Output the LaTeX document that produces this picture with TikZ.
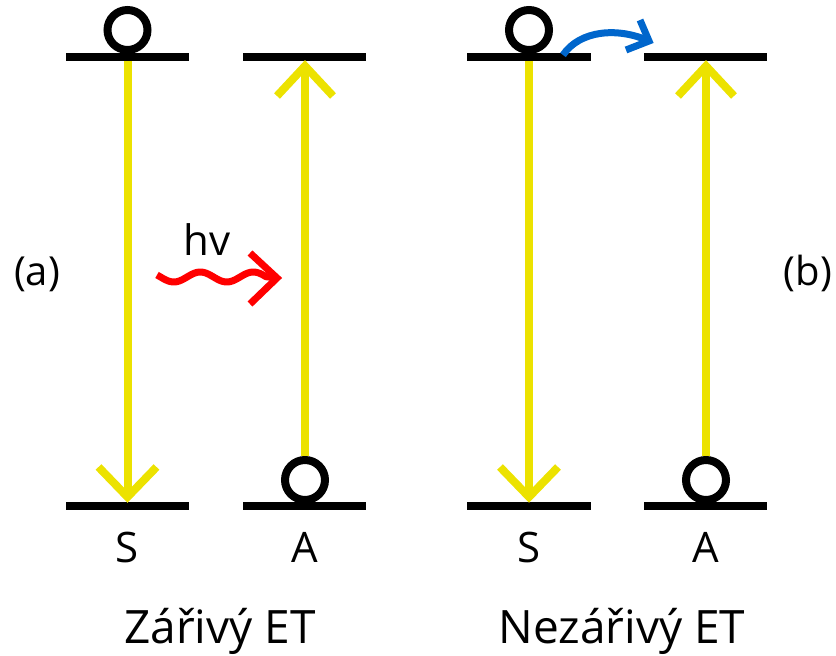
\documentclass[tikz,border=0pt]{standalone}
\usepackage{fontspec}
\setmainfont{Open Sans}
\usetikzlibrary{calc}
\definecolor{ylw}{RGB}{236,226,0}
\definecolor{rd}{RGB}{255,0,0}
\definecolor{bl}{RGB}{0,102,204}
\begin{document}
\begin{tikzpicture}[x=1pt,y=-1pt,
  level/.style={line width=8pt, black},
  trans/.style={line width=8pt, ylw, miter limit=10},
  photon/.style={line width=7pt, rd, miter limit=10},
  nonrad/.style={line width=7pt, bl, miter limit=10},
  electron/.style={circle, draw=black, line width=8pt, minimum size=40pt, inner sep=0pt, fill=white},
  lbl/.style={anchor=base, font=\fontsize{42}{42}\selectfont},
  tag/.style={anchor=base, font=\fontsize{40}{40}\selectfont},
  title/.style={anchor=base, font=\fontsize{46}{46}\selectfont}]
\useasboundingbox (0,0) rectangle (836,656);
% level end points
\coordinate (STa1) at (66,57);   \coordinate (STa2) at (189,57);
\coordinate (SBa1) at (66,506);  \coordinate (SBa2) at (189,506);
\coordinate (ATa1) at (243,57);  \coordinate (ATa2) at (366,57);
\coordinate (ABa1) at (243,506); \coordinate (ABa2) at (366,506);
\coordinate (STb1) at (467,57);  \coordinate (STb2) at (591,57);
\coordinate (SBb1) at (467,506); \coordinate (SBb2) at (591,506);
\coordinate (ATb1) at (644,57);  \coordinate (ATb2) at (767,57);
\coordinate (ABb1) at (644,506); \coordinate (ABb2) at (767,506);
% levels
\draw[level] (STa1) -- (STa2);
\draw[level] (SBa1) -- (SBa2);
\draw[level] (ATa1) -- (ATa2);
\draw[level] (ABa1) -- (ABa2);
\draw[level] (STb1) -- (STb2);
\draw[level] (SBb1) -- (SBb2);
\draw[level] (ATb1) -- (ATb2);
\draw[level] (ABb1) -- (ABb2);
% electrons
\node[electron] (ea) at (127.5,30) {};
\node[electron] (aa) at (305,480) {};
\node[electron] (eb) at (529,30) {};
\node[electron] (ab) at (706,480) {};
% yellow transitions, panel (a)
\coordinate (sa0) at (127.5,61);
\coordinate (sa1) at (127.5,497);
\draw[trans] (sa0) -- (sa1);
\draw[trans] ($(sa1)+(-29,-30)$) -- (sa1) -- ($(sa1)+(29,-30)$);
\coordinate (ta1) at (305,66);
\draw[trans] (aa.north) -- (ta1);
\draw[trans] ($(ta1)+(-28,30)$) -- (ta1) -- ($(ta1)+(28,30)$);
% yellow transitions, panel (b)
\coordinate (sb0) at (529,61);
\coordinate (sb1) at (529,497);
\draw[trans] (sb0) -- (sb1);
\draw[trans] ($(sb1)+(-29,-30)$) -- (sb1) -- ($(sb1)+(29,-30)$);
\coordinate (tb1) at (706,66);
\draw[trans] (ab.north) -- (tb1);
\draw[trans] ($(tb1)+(-28,30)$) -- (tb1) -- ($(tb1)+(28,30)$);
% photon
\coordinate (ptip) at (277,278);
\draw[photon, line join=round] plot[smooth, domain=157:266, samples=50] (\x,{277+5*sin((\x-157)*6.79-24)}) -- (ptip);
\draw[photon] ($(ptip)+(-27,-25)$) -- (ptip) -- ($(ptip)+(-27,26)$);
\node[anchor=base, font=\fontsize{42}{42}\selectfont] (hv) at (207,255) {hv};
% non-radiative transfer
\coordinate (bs) at (563,55);
\coordinate (btip) at (649,41);
\draw[nonrad] (bs) .. controls (580,30) and (618,27) .. (btip);
\draw[nonrad] ($(btip)+(-9,-21)$) -- (btip) -- ($(btip)+(-23,9)$);
% labels
\node[lbl] (lSa) at (127.5,562) {S};
\node[lbl] (lAa) at (305,562) {A};
\node[lbl] (lSb) at (529,562) {S};
\node[lbl] (lAb) at (706,562) {A};
\node[tag] (pa) at (37,285) {(a)};
\node[tag] (pb) at (808,285) {(b)};
\node[title] (ta) at (220,643) {Zářivý ET};
\node[title] (tb) at (622,643) {Nezářivý ET};
\end{tikzpicture}
\end{document}
